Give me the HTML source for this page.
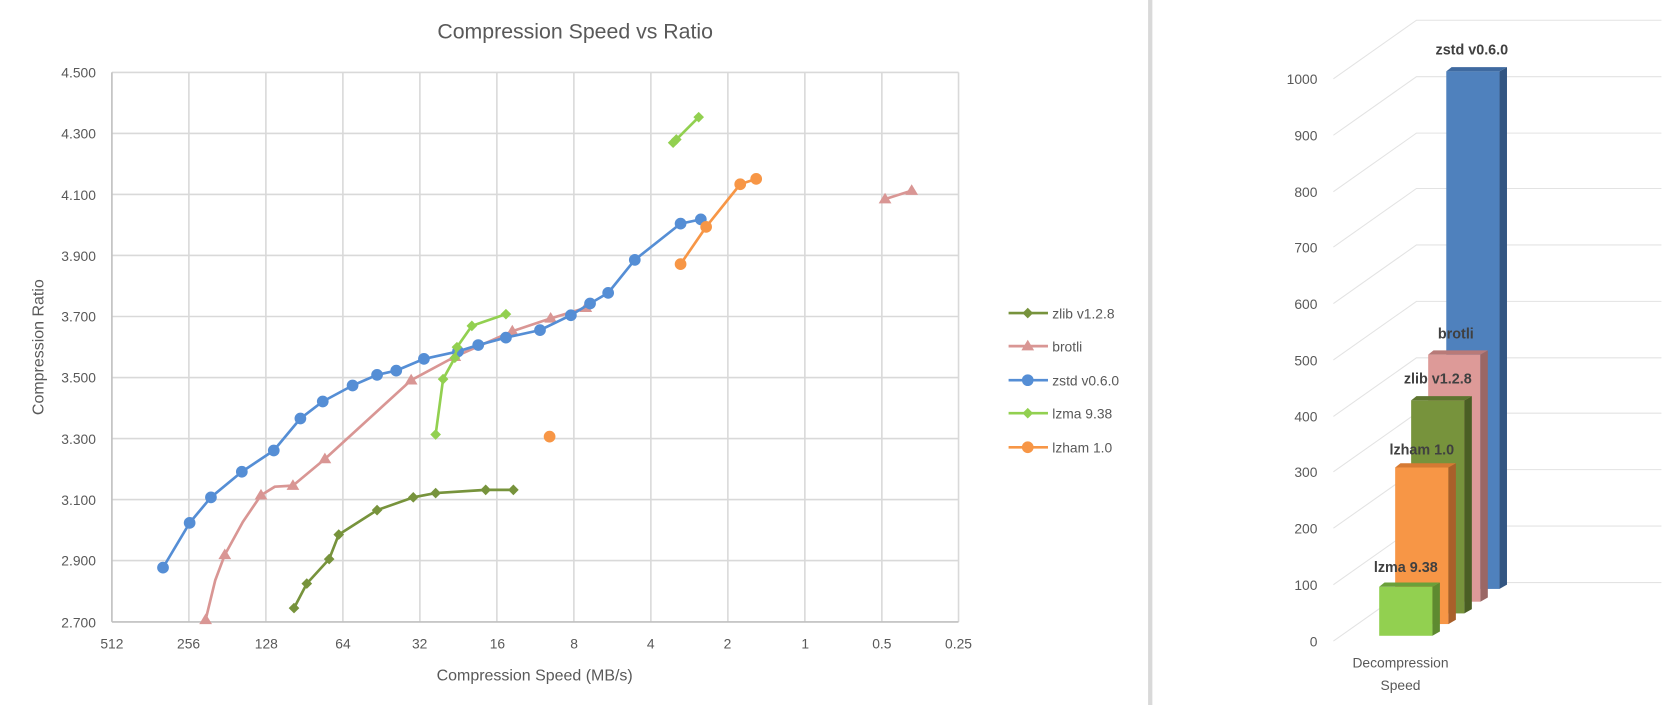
<!DOCTYPE html>
<html><head><meta charset="utf-8"><style>
html,body{margin:0;padding:0;background:#fff}
svg{display:block}
text{font-family:"Liberation Sans",sans-serif;fill:#595959}
</style></head><body>
<svg width="1670" height="705" viewBox="0 0 1568 662" xmlns="http://www.w3.org/2000/svg">
<rect width="1568" height="662" fill="#fff"/>
<text x="540" y="36" font-size="20" text-anchor="middle">Compression Speed vs Ratio</text>
<g stroke="#d9d9d9" stroke-width="1.5">
<line x1="105" y1="68" x2="900" y2="68"/><line x1="105" y1="125.3" x2="900" y2="125.3"/><line x1="105" y1="182.6" x2="900" y2="182.6"/><line x1="105" y1="239.9" x2="900" y2="239.9"/><line x1="105" y1="297.2" x2="900" y2="297.2"/><line x1="105" y1="354.5" x2="900" y2="354.5"/><line x1="105" y1="411.8" x2="900" y2="411.8"/><line x1="105" y1="469.1" x2="900" y2="469.1"/><line x1="105" y1="526.4" x2="900" y2="526.4"/>
<line x1="177.3" y1="68" x2="177.3" y2="584"/><line x1="249.6" y1="68" x2="249.6" y2="584"/><line x1="321.9" y1="68" x2="321.9" y2="584"/><line x1="394.2" y1="68" x2="394.2" y2="584"/><line x1="466.5" y1="68" x2="466.5" y2="584"/><line x1="538.8" y1="68" x2="538.8" y2="584"/><line x1="611.1" y1="68" x2="611.1" y2="584"/><line x1="683.4" y1="68" x2="683.4" y2="584"/><line x1="755.7" y1="68" x2="755.7" y2="584"/><line x1="828" y1="68" x2="828" y2="584"/><line x1="900" y1="68" x2="900" y2="584"/>
</g>
<line x1="105" y1="68" x2="105" y2="584" stroke="#bfbfbf" stroke-width="1.5"/>
<line x1="105" y1="584" x2="900" y2="584" stroke="#bfbfbf" stroke-width="1.5"/>
<g font-size="13" text-anchor="end">
<text x="90" y="73">4.500</text><text x="90" y="130">4.300</text><text x="90" y="188">4.100</text><text x="90" y="245">3.900</text><text x="90" y="302">3.700</text><text x="90" y="359">3.500</text><text x="90" y="417">3.300</text><text x="90" y="474">3.100</text><text x="90" y="531">2.900</text><text x="90" y="589">2.700</text>
</g>
<g font-size="13" text-anchor="middle">
<text x="105" y="609">512</text><text x="177" y="609">256</text><text x="250" y="609">128</text><text x="322" y="609">64</text><text x="394" y="609">32</text><text x="467" y="609">16</text><text x="539" y="609">8</text><text x="611" y="609">4</text><text x="683" y="609">2</text><text x="756" y="609">1</text><text x="828" y="609">0.5</text><text x="900" y="609">0.25</text>
</g>
<text x="502" y="639" font-size="15" text-anchor="middle">Compression Speed (MB/s)</text>
<text transform="translate(41,326) rotate(-90)" font-size="15" text-anchor="middle">Compression Ratio</text>
<!-- zlib -->
<g fill="#77933c" stroke="#77933c">
<polyline fill="none" stroke-width="2.5" stroke-linejoin="round" points="276,571 288,548 309,525 318,502 354,479 388,467 409,463 456,460 482,460"/>
<g stroke="none">
<path d="M276,566l5,5l-5,5l-5,-5z"/><path d="M288,543l5,5l-5,5l-5,-5z"/><path d="M309,520l5,5l-5,5l-5,-5z"/><path d="M318,497l5,5l-5,5l-5,-5z"/><path d="M354,474l5,5l-5,5l-5,-5z"/><path d="M388,462l5,5l-5,5l-5,-5z"/><path d="M409,458l5,5l-5,5l-5,-5z"/><path d="M456,455l5,5l-5,5l-5,-5z"/><path d="M482,455l5,5l-5,5l-5,-5z"/>
</g></g>
<!-- brotli -->
<g fill="#d99694" stroke="#d99694">
<polyline fill="none" stroke-width="2.5" stroke-linejoin="round" points="193,582 202,545 211,521 228,490 245,465 258,457 275,456 305,431 386,357 427,335 481,311 517,299 550,289"/>
<polyline fill="none" stroke-width="2.5" points="831,187 856,179"/>
<g stroke="none">
<path d="M193,576l6,10h-12z"/><path d="M211,515l6,10h-12z"/><path d="M245,459l6,10h-12z"/><path d="M275,450l6,10h-12z"/><path d="M305,425l6,10h-12z"/><path d="M386,351l6,10h-12z"/><path d="M427,329l6,10h-12z"/><path d="M481,305l6,10h-12z"/><path d="M517,293l6,10h-12z"/><path d="M550,283l6,10h-12z"/><path d="M831,181l6,10h-12z"/><path d="M856,173l6,10h-12z"/>
</g></g>
<!-- zstd -->
<g fill="#558ed5" stroke="#558ed5">
<polyline fill="none" stroke-width="2.5" stroke-linejoin="round" points="153,533 178,491 198,467 227,443 257,423 282,393 303,377 331,362 354,352 372,348 398,337 430,330 449,324 475,317 507,310 536,296 554,285 571,275 596,244 639,210 658,206"/>
<g stroke="none">
<circle cx="153" cy="533" r="5.5"/><circle cx="178" cy="491" r="5.5"/><circle cx="198" cy="467" r="5.5"/><circle cx="227" cy="443" r="5.5"/><circle cx="257" cy="423" r="5.5"/><circle cx="282" cy="393" r="5.5"/><circle cx="303" cy="377" r="5.5"/><circle cx="331" cy="362" r="5.5"/><circle cx="354" cy="352" r="5.5"/><circle cx="372" cy="348" r="5.5"/><circle cx="398" cy="337" r="5.5"/><circle cx="430" cy="330" r="5.5"/><circle cx="449" cy="324" r="5.5"/><circle cx="475" cy="317" r="5.5"/><circle cx="507" cy="310" r="5.5"/><circle cx="536" cy="296" r="5.5"/><circle cx="554" cy="285" r="5.5"/><circle cx="571" cy="275" r="5.5"/><circle cx="596" cy="244" r="5.5"/><circle cx="639" cy="210" r="5.5"/><circle cx="658" cy="206" r="5.5"/>
</g></g>
<!-- lzma -->
<g fill="#92d050" stroke="#92d050">
<polyline fill="none" stroke-width="2.5" stroke-linejoin="round" points="409,408 416,356 427,336 429,326 443,306 475,295"/>
<polyline fill="none" stroke-width="2.5" points="632,134 635,131 656,110"/>
<g stroke="none">
<path d="M409,403l5,5l-5,5l-5,-5z"/><path d="M416,351l5,5l-5,5l-5,-5z"/><path d="M427,331l5,5l-5,5l-5,-5z"/><path d="M429,321l5,5l-5,5l-5,-5z"/><path d="M443,301l5,5l-5,5l-5,-5z"/><path d="M475,290l5,5l-5,5l-5,-5z"/><path d="M632,129l5,5l-5,5l-5,-5z"/><path d="M635,126l5,5l-5,5l-5,-5z"/><path d="M656,105l5,5l-5,5l-5,-5z"/>
</g></g>
<!-- lzham -->
<g fill="#f79646" stroke="#f79646">
<polyline fill="none" stroke-width="2.5" stroke-linejoin="round" points="639,248 663,213 695,173 710,168"/>
<g stroke="none">
<circle cx="516" cy="410" r="5.5"/><circle cx="639" cy="248" r="5.5"/><circle cx="663" cy="213" r="5.5"/><circle cx="695" cy="173" r="5.5"/><circle cx="710" cy="168" r="5.5"/>
</g></g>
<!-- legend -->
<g stroke-width="2.5">
<line x1="947" y1="294" x2="984" y2="294" stroke="#77933c"/><path d="M965,289l5,5l-5,5l-5,-5z" fill="#77933c"/>
<line x1="947" y1="325" x2="984" y2="325" stroke="#d99694"/><path d="M965,319l6,10h-12z" fill="#d99694"/>
<line x1="947" y1="357" x2="984" y2="357" stroke="#558ed5"/><circle cx="965" cy="357" r="5.5" fill="#558ed5"/>
<line x1="947" y1="388" x2="984" y2="388" stroke="#92d050"/><path d="M965,383l5,5l-5,5l-5,-5z" fill="#92d050"/>
<line x1="947" y1="420" x2="984" y2="420" stroke="#f79646"/><circle cx="965" cy="420" r="5.5" fill="#f79646"/>
</g>
<g font-size="13">
<text x="988" y="299">zlib v1.2.8</text><text x="988" y="330">brotli</text><text x="988" y="362">zstd v0.6.0</text><text x="988" y="393">lzma 9.38</text><text x="988" y="425">lzham 1.0</text>
</g>
<rect x="1078" y="0" width="4" height="662" fill="#d9d9d9"/>
<!-- right chart grid -->
<g stroke="#e3e3e3" stroke-width="1" fill="none">
<polyline points="1252,74 1330,19 1560,19"/><polyline points="1252,127 1330,72 1560,72"/><polyline points="1252,180 1330,125 1560,125"/><polyline points="1252,232 1330,177 1560,177"/><polyline points="1252,285 1330,230 1560,230"/><polyline points="1252,338 1330,283 1560,283"/><polyline points="1252,391 1330,336 1560,336"/><polyline points="1252,443 1330,388 1560,388"/><polyline points="1252,496 1330,441 1560,441"/><polyline points="1252,549 1330,494 1560,494"/><polyline points="1252,602 1330,547 1560,547"/>
</g>
<g font-size="13" text-anchor="end">
<text x="1237" y="79">1000</text><text x="1237" y="132">900</text><text x="1237" y="185">800</text><text x="1237" y="237">700</text><text x="1237" y="290">600</text><text x="1237" y="343">500</text><text x="1237" y="396">400</text><text x="1237" y="448">300</text><text x="1237" y="501">200</text><text x="1237" y="554">100</text><text x="1237" y="607">0</text>
</g>
<!-- bars: back to front -->
<g>
<rect x="1358" y="67" width="50" height="486" fill="#4f81bd"/><path d="M1408,67l7,-4v486l-7,4z" fill="#335682"/><path d="M1358,67l5,-4h52l-7,4z" fill="#3f6aa0"/>
<rect x="1341" y="333" width="49" height="232" fill="#dd9a98"/><path d="M1390,333l7,-4v232l-7,4z" fill="#9a6765"/><path d="M1341,333l5,-4h51l-7,4z" fill="#b87a78"/>
<rect x="1325" y="376" width="50" height="200" fill="#77933c"/><path d="M1375,376l7,-4v200l-7,4z" fill="#4a5e24"/><path d="M1325,376l5,-4h52l-7,4z" fill="#5e7530"/>
<rect x="1310" y="439" width="50" height="147" fill="#f79646"/><path d="M1360,439l7,-4v147l-7,4z" fill="#a9602a"/><path d="M1310,439l5,-4h52l-7,4z" fill="#d67a33"/>
<rect x="1295" y="551" width="50" height="46" fill="#92d050"/><path d="M1345,551l7,-4v46l-7,4z" fill="#5e8a30"/><path d="M1295,551l5,-4h52l-7,4z" fill="#6aa03a"/>
</g>
<g font-size="13.5" font-weight="bold" text-anchor="middle" style="fill:#404040">
<text x="1382" y="51" style="fill:#404040">zstd v0.6.0</text><text x="1367" y="318" style="fill:#404040">brotli</text><text x="1350" y="360" style="fill:#404040">zlib v1.2.8</text><text x="1335" y="427" style="fill:#404040">lzham 1.0</text><text x="1320" y="537" style="fill:#404040">lzma 9.38</text>
</g>
<g font-size="13" text-anchor="middle"><text x="1315" y="627">Decompression</text><text x="1315" y="648">Speed</text></g>
</svg>
</body></html>
